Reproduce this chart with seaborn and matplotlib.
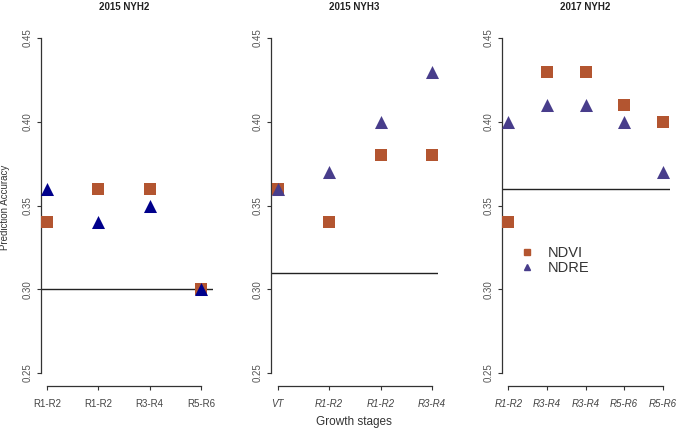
import matplotlib
matplotlib.use("Agg")
import matplotlib.pyplot as plt
from matplotlib.lines import Line2D
import seaborn as sns
import pandas as pd

# ---- data ----
titles = ["2015 NYH2", "2015 NYH3", "2017 NYH2"]
stages_a = ["R1-R2", "R1-R2", "R3-R4", "R5-R6"]
ndvi_a = [0.34, 0.36, 0.36, 0.30]
ndre_a = [0.36, 0.34, 0.35, 0.30]
base_a = 0.30
stages_b = ["VT", "R1-R2", "R1-R2", "R3-R4"]
ndvi_b = [0.36, 0.34, 0.38, 0.38]
ndre_b = [0.36, 0.37, 0.40, 0.43]
base_b = 0.31
stages_c = ["R1-R2", "R3-R4", "R3-R4", "R5-R6", "R5-R6"]
ndvi_c = [0.34, 0.43, 0.43, 0.41, 0.40]
ndre_c = [0.40, 0.41, 0.41, 0.40, 0.37]
base_c = 0.36
y_ticks = [0.25, 0.30, 0.35, 0.40, 0.45]

sns.set_theme(style="white")
plt.rcParams["font.family"] = ["Liberation Sans", "DejaVu Sans"]

SQ = "#B35530"
TRI = ["#00008B", "#483D8B", "#483D8B"]
AX = "#333333"

W, H = 676, 430
fig = plt.figure(figsize=(W / 100, H / 100), dpi=100)

# panel geometry in pixels: (left edge, right edge, first tick, last tick)
geo = [(41, 213, 47, 201), (271, 438, 277.7, 432), (502, 670, 508.3, 662.7)]
title_x = [124, 354, 585]
top_px, bot_px = 24.6, 386.4

panels = [(stages_a, ndvi_a, ndre_a, base_a),
          (stages_b, ndvi_b, ndre_b, base_b),
          (stages_c, ndvi_c, ndre_c, base_c)]

axes = []
for i, ((stg, nv, nr, base), (l, r, t0, t1)) in enumerate(zip(panels, geo)):
    ax = fig.add_axes([l / W, 1 - bot_px / H, (r - l) / W, (bot_px - top_px) / H])
    axes.append(ax)
    n = len(stg)
    pos = list(range(1, n + 1))
    df_v = pd.DataFrame({"pos": pos, "acc": nv})
    df_r = pd.DataFrame({"pos": pos, "acc": nr})
    ax.axhline(base, color="#222222", lw=1.0, zorder=1)
    sns.scatterplot(data=df_v, x="pos", y="acc", marker="s", color=SQ, s=66,
                    linewidth=0, ax=ax, zorder=3, legend=False)
    sns.scatterplot(data=df_r, x="pos", y="acc", marker="^", color=TRI[i], s=88,
                    linewidth=0, ax=ax, zorder=4, legend=False)
    ppu = (t1 - t0) / (n - 1)
    ax.set_xlim(1 - (t0 - l) / ppu, n + (r - t1) / ppu)
    ax.set_ylim(0.242, 0.458)
    ax.set_xticks(pos)
    ax.set_xticklabels(stg, fontsize=7, color="#444444",
                       style="normal" if i == 0 else "italic")
    ax.set_yticks(y_ticks)
    ax.set_yticklabels([f"{v:.2f}" for v in y_ticks], rotation=90, va="center",
                       fontsize=7, color="#555555")
    for s in ["top", "right"]:
        ax.spines[s].set_visible(False)
    ax.spines["left"].set_bounds(0.25, 0.45)
    ax.spines["bottom"].set_bounds(1, n)
    for s in ["left", "bottom"]:
        ax.spines[s].set_color(AX)
        ax.spines[s].set_linewidth(0.9)
    ax.tick_params(axis="both", direction="out", length=3, width=0.8, color=AX,
                   left=True, bottom=True)
    ax.tick_params(axis="x", pad=6)
    ax.tick_params(axis="y", pad=3)
    ax.set_xlabel("")
    ax.set_ylabel("")
    ax.grid(False)
    fig.text(title_x[i] / W, 1 - 6.5 / H, titles[i], fontsize=7, fontweight="bold",
             color="#222222", ha="center", va="center")

fig.text(5 / W, 1 - 207 / H, "Prediction Accuracy", rotation=90, fontsize=7,
         color="#333333", ha="center", va="center")
fig.text(354 / W, 1 - 422 / H, "Growth stages", fontsize=8.5, color="#333333",
         ha="center", va="center")

handles = [Line2D([], [], marker="s", color=SQ, linestyle="", markersize=4.5),
           Line2D([], [], marker="^", color=TRI[2], linestyle="", markersize=5)]
axes[2].legend(handles, ["NDVI", "NDRE"], loc="upper left",
               bbox_to_anchor=((520 - 502) / (670 - 502), 1 - (246 - top_px) / (bot_px - top_px)),
               frameon=False, fontsize=10.5, labelspacing=0.05, handletextpad=0.9,
               handlelength=1.0, borderaxespad=0, borderpad=0, labelcolor="#333333")

fig.savefig("out.png", dpi=100, facecolor="white")
